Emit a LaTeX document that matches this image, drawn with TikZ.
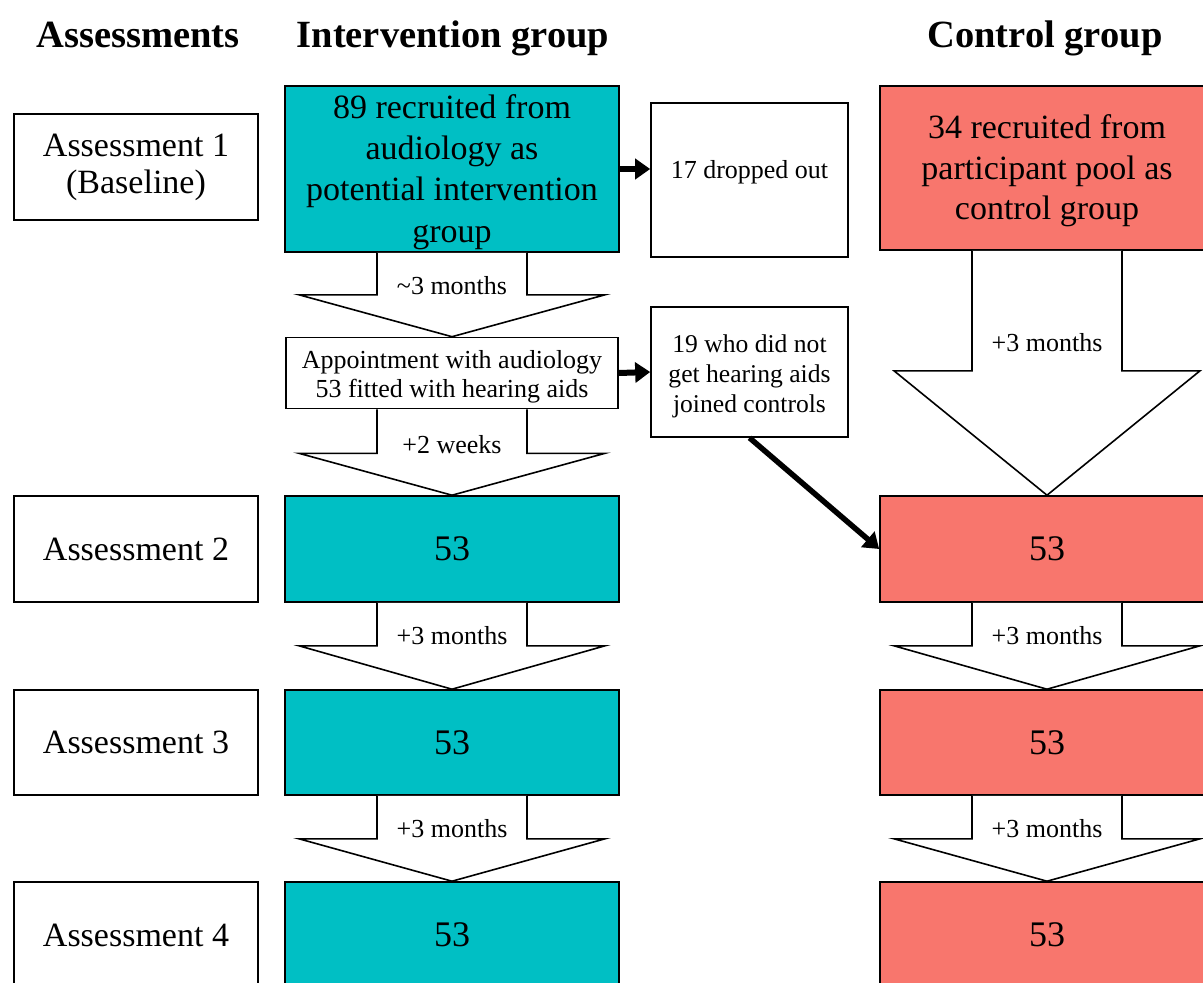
\documentclass[tikz,border=0pt]{standalone}
\usepackage{fontspec}
\setmainfont{Liberation Serif}
\usetikzlibrary{calc,arrows.meta}
\definecolor{tealc}{HTML}{00BFC4}
\definecolor{pinkc}{HTML}{F8766D}
\tikzset{
  boxbase/.style={draw=black, line width=1.6pt, align=center, inner sep=0pt},
  whitebox/.style={boxbase, fill=white},
  tealbox/.style={boxbase, fill=tealc, minimum width=334pt},
  pinkbox/.style={boxbase, fill=pinkc, minimum width=334pt},
  asbox/.style={whitebox, minimum width=244pt, minimum height=106pt, font=\fontsize{34}{37}\selectfont},
  header/.style={font=\fontsize{38.5}{40}\selectfont\bfseries, anchor=base, inner sep=0pt},
  bigtxt/.style={font=\fontsize{34}{41.3}\selectfont, align=center, inner sep=0pt},
  pinktxt/.style={font=\fontsize{34}{40.5}\selectfont, align=center, inner sep=0pt},
  numtxt/.style={font=\fontsize{36}{40}\selectfont},
  smalltxt/.style={font=\fontsize{26}{30}\selectfont, align=center, inner sep=0pt},
  fatarr/.style={draw=black, line width=1.6pt, fill=white, line join=miter},
  thinarrow/.style={line width=6pt, -{Triangle[length=15pt,width=20pt]}},
}
% #1 from node, #2 to node, #3 shoulder offset below #1.south, #4 label baseline offset, #5 label
\newcommand{\fatarrow}[5]{%
  \draw[fatarr] ($(#1.south)+(-75,0)$) -- ($(#1.south)+(-75,#3)$) -- ($(#1.south)+(-153,#3)$)
    -- (#2.north) -- ($(#1.south)+(153,#3)$) -- ($(#1.south)+(75,#3)$) -- ($(#1.south)+(75,0)$);
  \node[smalltxt, anchor=base] at ($(#1.south)+(0,#4)$) {#5};
}
\begin{document}
\begin{tikzpicture}[x=1pt,y=-1pt]
\useasboundingbox (0,0) rectangle (1203,983);
\clip (0,0) rectangle (1203,983);
\fill[white] (0,0) rectangle (1203,983);

% headers
\node[header] (hA) at (138,47) {Assessments};
\node[header] (hI) at (453,47) {Intervention group};
\node[header] (hC) at (1045,47) {Control group};

% assessment column
\node[asbox] (a1) at (136,167) {Assessment 1\\(Baseline)};
\node[asbox] (a2) at (136,549) {Assessment 2};
\node[asbox, minimum height=105pt] (a3) at (136,742.5) {Assessment 3};
\node[asbox] (a4) at (136,935) {Assessment 4};

% intervention column
\node[tealbox, minimum height=166pt,
  label={[bigtxt, yshift=-3pt]center:89 recruited from\\audiology as\\potential intervention\\group}] (t1) at (452,169) {};
\node[whitebox, minimum width=332pt, minimum height=71pt,
  label={[smalltxt, font=\fontsize{26}{29}\selectfont, yshift=-3.5pt]center:Appointment with audiology\\53 fitted with hearing aids}] (ap) at (452,373) {};
\node[tealbox, minimum height=106pt, numtxt] (t2) at (452,549) {53};
\node[tealbox, minimum height=105pt, numtxt] (t3) at (452,742.5) {53};
\node[tealbox, minimum height=106pt, numtxt] (t4) at (452,935) {53};

% side boxes
\node[whitebox, minimum width=197pt, minimum height=154pt,
  label={[smalltxt, yshift=8pt]center:17 dropped out}] (drop) at (749.5,180) {};
\node[whitebox, minimum width=197pt, minimum height=130pt,
  label={[smalltxt, font=\fontsize{25.6}{30}\selectfont, yshift=-4pt]center:19 who did not\\get hearing aids\\joined controls}] (join) at (749.5,372) {};

% control column
\node[pinkbox, minimum height=164pt,
  label={[pinktxt, yshift=-3pt]center:34 recruited from\\participant pool as\\control group}] (p1) at (1047,168) {};
\node[pinkbox, minimum height=106pt, numtxt] (p2) at (1047,549) {53};
\node[pinkbox, minimum height=105pt, numtxt] (p3) at (1047,742.5) {53};
\node[pinkbox, minimum height=106pt, numtxt] (p4) at (1047,935) {53};

% block arrows
\fatarrow{t1}{ap}{42}{42}{\textasciitilde3 months}
\fatarrow{ap}{t2}{44}{44}{+2 weeks}
\fatarrow{t2}{t3}{43}{42}{+3 months}
\fatarrow{t3}{t4}{43}{42}{+3 months}
\fatarrow{p1}{p2}{120}{101}{+3 months}
\fatarrow{p2}{p3}{43}{42}{+3 months}
\fatarrow{p3}{p4}{43}{42}{+3 months}

% thin arrows
\draw[thinarrow] (t1.east) -- (t1.east -| drop.west);
\draw[thinarrow] (ap.east) -- (join.west);
\draw[thinarrow, line width=5.5pt] (join.south) -- (p2.west);
\end{tikzpicture}
\end{document}
